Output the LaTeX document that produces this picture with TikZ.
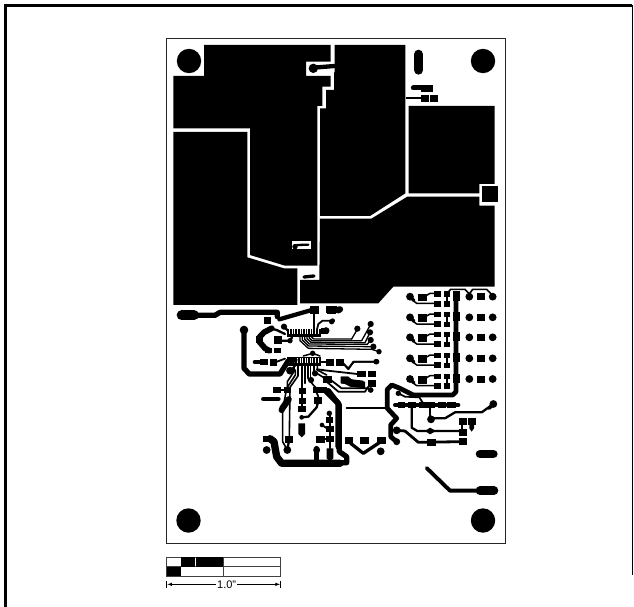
\documentclass[tikz,border=0pt]{standalone}
\usepackage{fontspec}
\setmainfont{Liberation Sans}
\tikzset{
 zm/.style 2 args={shift={(#1,#2)},x=.33333pt,y=-.33333pt},
 tr/.style={draw=black,line cap=round,line join=round,line width=#1pt+.3pt},
 tr/.default=1,
}
\newcommand{\pad}[4]{\filldraw[line width=.8pt] (#1,#2) rectangle (#3,#4);}
\newcommand{\via}[3]{\fill (#1,#2) circle[radius=#3*0.39pt];}
\begin{document}
\begin{tikzpicture}[x=1pt,y=-1pt]
\useasboundingbox (0,0) rectangle (634,607);
\fill[white] (0,0) rectangle (634,607);
% frame
\draw[line width=2.4pt] (5.5,607) -- (5.5,5.5) -- (632,5.5);
\draw[line width=1pt] (632,5.5) -- (632,575);
% board
\draw[line width=.9pt,black!85] (166.5,38.5) rectangle (505.5,543);
% holes
\fill (189,61) circle[radius=12.2pt];
\fill (483,61) circle[radius=12.2pt];
\fill (188.5,520.5) circle[radius=12.2pt];
\fill (483,520.5) circle[radius=12.2pt];

%% COPPER, coordinates of the upper crop
\begin{scope}[zm={160}{30}]
\fill (132,45)--(512,45)--(512,95)--(438,95)--(438,138)--(512,138)--(512,170)--(487,170)--(487,228)--(472,228)--(472,707)--(375,707)--(270,675)--(270,295)--(40,295)--(40,138)--(132,138)--cycle;
\fill (40,306)--(262,306)--(262,682)--(372,715)--(412,715)--(412,825)--(40,825)--cycle;
\fill (524,45)--(736,45)--(736,490)--(630,558)--(480,558)--(480,235)--(498,235)--(498,180)--(522,180)--(522,130)--(524,125)--cycle;
\fill (746,228)--(1004,228)--(1004,462)--(958,462)--(958,490)--(746,490)--cycle;
\fill (965,468) rectangle (1015,516);
\fill (480,566)--(634,566)--(742,500)--(958,500)--(958,527)--(1004,527)--(1004,770)--(700,770)--(655,820)--(420,820)--(420,750)--(478,750)--cycle;
\fill[white] (397,634) rectangle (453,658);
\draw[tr=2] (405,650)--(412,645)--(445,644);
\via{405}{650}{7}
\draw[tr=3] (432,741)--(462,738);
\via{460}{115}{12}
\draw[tr=4] (460,113)--(524,108);
\draw[line width=9.3pt,line cap=round] (776,73)--(776,120);
\draw[line width=5pt,line cap=round] (760,174)--(810,174);
\pad{785}{166}{818}{183}
\pad{785}{195}{805}{214}
\pad{811}{195}{832}{214}
\draw[line width=2pt] (738,205)--(790,205);
\end{scope}

%% lower left
\begin{scope}[zm={170}{300}]
\draw[line width=10pt,line cap=round] (35,46)--(72,46);
\draw[tr=5] (75,46)--(135,46)--(150,37)--(322,37)--(322,50);
\draw[tr=4] (328,58)--(425,30);
\pad{282}{52}{300}{70}
\pad{420}{20}{445}{40}
\pad{472}{20}{495}{40}
\via{505}{30}{9}
\draw[tr=.8] (432,40)--(432,90);
\draw[tr=1.5] (440,92)--(445,72)--(458,62)--(488,62);
\via{488}{62}{6}
\pad{455}{85}{472}{100}
\via{468}{92}{9}
\via{342}{80}{8}
\draw[tr=2] (342,80)--(362,100);
% upper IC
\pad{352}{88}{450}{108}
\foreach \i in {0,...,11}{\fill[white] ({358+\i*7.7},88) rectangle ({359+\i*7.7},102);}
% lower IC
\pad{352}{172}{452}{195}
\foreach \i in {0,...,11}{\fill[white] ({358+\i*7.7},174) rectangle ({359+\i*7.7},190);}
\via{428}{160}{7}
\draw[tr=1.2] (400,168)--(428,160)--(450,168);
% left group
\via{222}{90}{11}
\draw[tr=5] (222,90)--(222,205)--(238,222)--(330,222)--(355,182)--(375,180);
\draw[tr=5.5] (305,85)--(282,97)--(268,112)--(268,125)--(285,145)--(298,152);
\pad{260}{108}{278}{128}
\pad{285}{145}{305}{158}
\pad{312}{145}{330}{158}
\pad{312}{108}{335}{130}
\draw[tr=2] (335,122)--(360,122)--(366,112);
\via{360}{122}{7}
\draw[tr=2] (345,102)--(320,90)--(300,85);
\draw[line width=4.6pt,line cap=round] (255,186)--(285,186);
\pad{270}{179}{292}{193}
\pad{300}{178}{318}{195}
\draw[tr=1.5] (318,186)--(345,176);
\via{360}{212}{10}
\draw[tr=1.5] (360,212)--(378,195);
% lower fan
\draw[tr=1.3] (372,195)--(372,215)--(352,245)--(352,262);
\draw[tr=1.3] (384,195)--(384,228)--(360,262)--(358,410);
\draw[tr=1.3] (376,210)--(376,225)--(350,265)--(338,330)--(338,425)--(352,450);
\draw[tr=1.3] (396,195)--(396,265);
\draw[tr=1.3] (405,195)--(405,250);
\draw[tr=1.3] (414,195)--(414,235)--(430,255)--(440,265);
\draw[tr=1.3] (422,195)--(422,232);
\draw[tr=1.3] (432,195)--(432,215)--(465,235);
\draw[tr=1.3] (442,195)--(442,210)--(470,225);
\via{423}{240}{8}
\pad{310}{262}{332}{278}
\pad{343}{262}{362}{278}
\draw[tr=2] (332,270)--(343,270);
\draw[line width=4.6pt,line cap=round] (280,297)--(325,297);
\draw[tr=6] (356,298)--(337,325);
\via{335}{330}{8}
\pad{345}{408}{368}{428}
\via{352}{450}{10}
\draw[tr=2] (356,428)--(352,448);
\pad{387}{265}{405}{280}
\pad{387}{295}{405}{310}
\pad{385}{318}{407}{335}
\draw[tr=2] (396,280)--(396,318);
\via{395}{352}{6}
\draw[tr=2] (395,352)--(415,350)--(440,322)--(443,310);
\pad{432}{292}{455}{310}
\fill (385,370)--(405,370)--(405,402)--(395,412)--(385,402)--cycle;
\pad{280}{408}{305}{425}
\draw[tr=7] (300,416)--(312,425)--(320,470)--(335,490)--(510,490);
\via{290}{450}{10}
\draw[tr=4.5] (440,445)--(440,490);
\via{440}{450}{9}
\pad{430}{262}{470}{278}
\draw[tr=5.5] (465,270)--(505,310)--(505,440);
\draw[tr=1.5] (440,278)--(445,290);
\pad{438}{408}{462}{428}
\pad{470}{408}{490}{425}
\draw[tr=2] (460,418)--(470,418);
\pad{470}{378}{490}{395}
\pad{470}{352}{488}{368}
\via{478}{340}{7}
\draw[tr=2] (480,340)--(480,378);
\draw[tr=2] (480,395)--(480,408);
\via{456}{375}{6}
\draw[tr=1.5] (456,375)--(475,388);
\fill (470,445)--(490,445)--(490,475)--(480,485)--(470,475)--cycle;
\draw[tr=2] (480,425)--(480,445);
\end{scope}

%% centre fans
\begin{scope}[zm={280}{310}]
\draw[tr=1] (60,78)--(60,92)--(85,115)--(275,118);
\draw[tr=1] (67,78)--(67,90)--(86,108)--(270,110);
\draw[tr=1] (74,78)--(74,88)--(88,102)--(262,103);
\draw[tr=1] (81,78)--(81,86)--(93,97)--(255,98);
\draw[tr=1] (88,78)--(88,84)--(96,92)--(245,92);
\draw[tr=1] (95,78)--(95,81)--(101,87)--(215,87);
\draw[tr=1] (215,87)--(232,58);
\draw[tr=1] (245,92)--(272,43);
\draw[tr=1] (255,98)--(270,68);
\draw[tr=1] (262,103)--(272,90);
\draw[tr=1] (270,110)--(280,110);
\draw[tr=1] (275,118)--(297,125);
\via{232}{56}{8}\via{272}{42}{8}\via{270}{67}{8}\via{272}{90}{8}\via{280}{110}{8}\via{297}{125}{7}
\pad{142}{148}{160}{165}
\pad{172}{148}{190}{165}
\draw[tr=1.5] (125,155)--(142,155);
\draw[tr=1.5] (190,160)--(205,178)--(220,155)--(288,155);
\via{290}{155}{7}
\draw[tr=1.5] (125,180)--(232,192);
\pad{232}{185}{252}{200}
\pad{265}{185}{285}{200}
\via{105}{190}{8}
\pad{130}{200}{155}{218}
\fill (183,200)--(205,200)--(215,208)--(250,212)--(250,230)--(210,226)--(195,220)--(183,220)--cycle;
\pad{265}{210}{285}{225}
\via{272}{240}{7}
\draw[tr=1.5] (155,212)--(185,235)--(265,235);
\draw[tr=1.5] (110,178)--(130,180);
\end{scope}

%% lower right
\begin{scope}[zm={330}{280}]
\pad{18}{238}{38}{256}
\pad{-10}{238}{10}{255}
\draw[tr=1.5] (38,250)--(55,265)--(72,245)--(135,245);
\via{138}{245}{7}
\pad{-10}{80}{20}{97}
\via{30}{88}{8}
\via{5}{125}{7}
\foreach \y in {50,112,172,235,297}{
 \via{240}{\y}{10}
 \draw[tr=3] (240,\y)--(252,{\y+12});
 \draw[tr=1.2] (252,{\y+14})--(260,{\y+20})--(312,{\y+20});
 \pad{265}{\y-8}{290}{\y+12}
 \draw[tr=1.2] (290,{\y-4})--(300,{\y-10})--(312,{\y-10});
 \pad{312}{\y-15}{332}{\y-2}
 \pad{312}{\y+13}{332}{\y+28}
 \pad{342}{\y-15}{358}{\y-2}
 \pad{342}{\y+14}{358}{\y+28}
 \draw[tr=2] (350,{\y-2})--(350,{\y+14});
 \pad{370}{\y-15}{388}{\y+10}
 \via{418}{\y}{10}
 \pad{442}{\y-9}{464}{\y+9}
 \via{488}{\y}{10}
}
\draw[tr=1.3] (352,40)--(362,28)--(405,28)--(418,42);
\draw[tr=1.3] (418,42)--(428,28)--(470,28)--(490,48);
\draw[tr=4.5] (378,45)--(378,335)--(368,345)--(250,345)--(210,325)--(185,315)--(172,328)--(172,385)--(200,415)--(182,435)--(182,470)--(200,485);
\draw[tr=2] (50,385)--(172,385);
\draw[tr=5] (-5,332)--(28,375)--(28,515)--(50,530)--(50,548)--(-5,548);
\via{205}{340}{7}
\draw[tr=1.5] (205,340)--(225,350)--(268,352)--(278,368);
% row
\draw[line width=4pt,line cap=round] (195,375)--(385,375);
\pad{205}{367}{222}{382}
\pad{235}{367}{255}{382}
\pad{268}{367}{288}{382}
\pad{293}{367}{312}{382}
\pad{325}{367}{345}{382}
\pad{352}{367}{375}{382}
\draw[tr=2] (245,380)--(245,443)--(262,453)--(395,453);
\fill (285,453)--(300,443)--(318,453)--(300,463)--cycle;
\pad{388}{448}{408}{465}
\pad{388}{476}{408}{493}
\via{200}{451}{10}
\draw[tr=2.5] (200,451)--(225,453)--(265,487)--(395,485);
\pad{292}{477}{317}{497}
\via{200}{485}{9}
\draw[tr=2] (300,380)--(300,418);
\via{303}{418}{10}
\draw[tr=2] (303,415)--(345,415)--(375,397)--(455,397)--(490,372);
\via{490}{372}{10}
\draw[tr=3] (478,385)--(490,372);
\pad{388}{415}{408}{432}
\pad{415}{415}{435}{432}
\draw[tr=2] (397,432)--(397,448);
\fill (418,432)--(432,432)--(432,445)--(425,455)--(418,445)--cycle;
% pills
\draw[line width=8.6pt,line cap=round] (450,522)--(490,522);
\draw[line width=8.6pt,line cap=round] (450,632)--(492,632);
\draw[tr=3.6] (290,564)--(360,632)--(450,632);
% bottom group
\pad{45}{472}{68}{490}
\pad{90}{472}{115}{490}
\pad{142}{472}{165}{490}
\draw[tr=3] (62,490)--(100,520)--(148,488);
\via{152}{514}{10}
% middle pads
\pad{85}{275}{105}{290}
\pad{115}{275}{135}{290}
\fill (32,290)--(55,290)--(60,298)--(105,305)--(105,325)--(60,320)--(45,312)--(32,310)--cycle;
\pad{115}{305}{135}{320}
\via{122}{330}{7}
\draw[tr=1.5] (-10,305)--(25,335)--(105,335)--(115,320);
\end{scope}

%% scale bar
\begin{scope}[zm={160}{550}]
\draw[line width=.7pt,black!75] (20,22) rectangle (362,78);
\draw[line width=.7pt,black!75] (20,50)--(362,50);
\draw[line width=.7pt,black!75] (190,22)--(190,78);
\fill (62,22) rectangle (105,50);
\fill (107,22) rectangle (190,50);
\fill (20,50) rectangle (62,78);
\draw[line width=.6pt] (20,93)--(20,113);
\draw[line width=.6pt] (362,93)--(362,113);
\node[inner sep=1pt,fill=white,font=\fontsize{11}{11}\selectfont] (scalelabel) at (200,103) {1.0"};
\draw[-latex,line width=.6pt] (scalelabel.west)--(22,103);
\draw[-latex,line width=.6pt] (scalelabel.east)--(360,103);
\end{scope}
\end{tikzpicture}
\end{document}
